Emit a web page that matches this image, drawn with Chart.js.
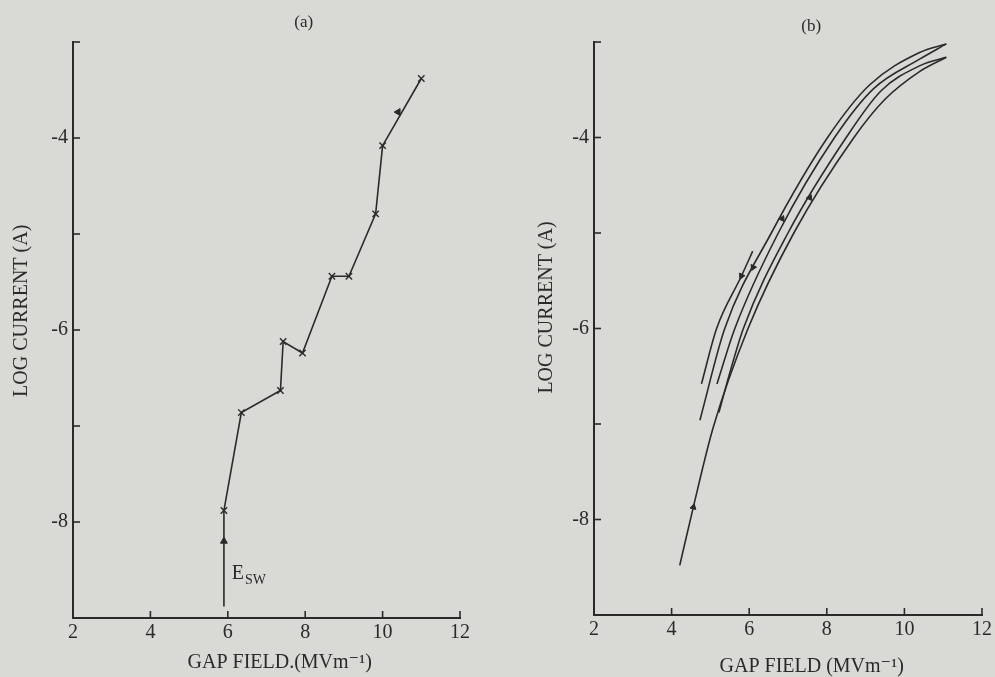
<!DOCTYPE html>
<html>
<head>
<meta charset="utf-8">
<script src="https://cdn.jsdelivr.net/npm/chart.js@4"></script>
<style>
  html, body { margin: 0; padding: 0; background: #d9d9d5; }
  #wrap { position: relative; width: 995px; height: 677px; overflow: hidden; }
  canvas { position: absolute; top: 0; }
  #ca { left: 0; }
  #cb { left: 497px; }
</style>
</head>
<body>
<div id="wrap">
  <canvas id="ca" width="497" height="677"></canvas>
  <canvas id="cb" width="498" height="677"></canvas>
</div>
<script>
// ---------- DATA ----------
// Panel (a): measured points (gap field MV/m, log current A)
const fieldA   = [5.9, 5.9, 6.35, 7.36, 7.43, 7.93, 8.69, 9.13, 9.82, 10.0, 11.0];
const logIA    = [-8.88, -7.88, -6.86, -6.63, -6.12, -6.24, -5.44, -5.44, -4.79, -4.08, -3.38];
// direction arrows on panel (a)
const arrowFieldA = [5.9, 10.4];
const arrowLogIA  = [-8.2, -3.73];
const arrowAngleA = [0, 30];

// Panel (b): hysteresis curves
const riseX1 = [4.21, 4.56, 5.07, 5.97, 7.15, 8.7, 9.5, 10.39, 11.08];
const riseY1 = [-8.48, -7.87, -7.04, -6.0, -5.0, -4.0, -3.6, -3.31, -3.16];
const fallX1 = [5.22, 5.42, 5.85, 7.0, 8.5, 9.4, 10.39, 11.08];
const fallY1 = [-6.88, -6.58, -6.0, -5.0, -4.0, -3.51, -3.25, -3.16];
const riseX2 = [5.17, 5.63, 6.75, 8.2, 9.2, 10.39, 11.08];
const riseY2 = [-6.58, -6.0, -5.0, -4.0, -3.49, -3.18, -3.02];
const fallX2 = [4.73, 5.37, 6.57, 8.02, 9.1, 10.39, 11.08];
const fallY2 = [-6.96, -6.0, -5.0, -4.0, -3.45, -3.11, -3.02];
const shortX = [4.77, 5.16, 5.8, 6.09];
const shortY = [-6.58, -6.0, -5.45, -5.19];
// direction arrows on panel (b)
const arrowFieldB = [4.56, 5.8, 6.1, 6.85, 7.56];
const arrowLogIB  = [-7.87, -5.45, -5.36, -4.85, -4.63];
const arrowAngleB = [14, 205, 205, 25, 25];

// Axes
const xTickValues = [2, 4, 6, 8, 10, 12];
const yLabelValues = [-4, -6, -8];
const X_MIN = 2, X_MAX = 12, Y_MIN = -9, Y_MAX = -3;

// ---------- STYLE ----------
const INK = '#2a2a2a';
const SERIF = '"Liberation Serif", "DejaVu Serif", serif';

const pts = (xs, ys) => xs.map((x, i) => ({ x, y: ys[i] }));

const inwardTicks = {
  id: 'inwardTicks',
  afterDraw(chart) {
    const { ctx, chartArea, scales: { x, y } } = chart;
    ctx.save();
    ctx.strokeStyle = INK;
    ctx.lineWidth = 1.6;
    x.ticks.forEach(t => {
      const px = x.getPixelForValue(t.value);
      ctx.beginPath(); ctx.moveTo(px, chartArea.bottom); ctx.lineTo(px, chartArea.bottom - 7); ctx.stroke();
    });
    y.ticks.forEach(t => {
      const py = y.getPixelForValue(t.value);
      ctx.beginPath(); ctx.moveTo(chartArea.left, py); ctx.lineTo(chartArea.left + 7, py); ctx.stroke();
    });
    ctx.restore();
  }
};

// panel letter, axis titles and the E_SW annotation
const labelsPlugin = {
  id: 'panelLabels',
  afterDraw(chart, args, opts) {
    const { ctx, scales: { x, y } } = chart;
    ctx.save();
    ctx.fillStyle = INK;
    ctx.textAlign = 'center';
    ctx.textBaseline = 'middle';
    ctx.font = '17px ' + SERIF;
    ctx.fillText(opts.panel, x.getPixelForValue(opts.panelX), opts.panelY);
    // x axis title
    ctx.font = '20px ' + SERIF;
    ctx.fillText(opts.xTitle, x.getPixelForValue(opts.xTitleAt), opts.xTitleY);
    // y axis title
    ctx.save();
    ctx.translate(opts.yTitleX, y.getPixelForValue(opts.yTitleAt));
    ctx.rotate(-Math.PI / 2);
    ctx.fillText('LOG CURRENT (A)', 0, 0);
    ctx.restore();
    if (opts.esw) {
      const ex = x.getPixelForValue(opts.esw[0]);
      const ey = y.getPixelForValue(opts.esw[1]);
      ctx.textAlign = 'left';
      ctx.font = '20px ' + SERIF;
      ctx.fillText('E', ex, ey);
      const w = ctx.measureText('E').width;
      ctx.font = '14px ' + SERIF;
      ctx.fillText('SW', ex + w + 1, ey + 6);
    }
    ctx.restore();
  }
};

function makeOptions(cfg) {
  return {
    responsive: false,
    animation: false,
    devicePixelRatio: 1,
    layout: { padding: { left: 0, top: 42, right: cfg.padRight, bottom: 0 } },
    plugins: {
      legend: { display: false },
      tooltip: { enabled: false },
      panelLabels: cfg.labels
    },
    scales: {
      x: {
        type: 'linear', min: X_MIN, max: X_MAX,
        afterBuildTicks: s => { s.ticks = xTickValues.map(v => ({ value: v })); },
        afterFit: s => { s.height = cfg.xHeight; },
        grid: { display: false, drawTicks: false },
        border: { display: true, color: INK, width: 2 },
        ticks: { color: INK, font: { family: SERIF, size: 20 }, padding: 3, maxRotation: 0 }
      },
      y: {
        type: 'linear', min: Y_MIN, max: Y_MAX,
        ticks: {
          stepSize: 1, color: INK, font: { family: SERIF, size: 20 }, padding: 5,
          callback: v => yLabelValues.includes(v) ? String(v) : ''
        },
        afterFit: s => { s.width = cfg.yWidth; },
        grid: { display: false, drawTicks: false },
        border: { display: true, color: INK, width: 2 }
      }
    }
  };
}

const lineStyle = { borderColor: INK, borderWidth: 1.6, showLine: true, fill: false, pointRadius: 0 };
const arrowStyle = (angles) => ({
  showLine: false, pointStyle: 'triangle', pointRadius: 4, pointRotation: angles,
  backgroundColor: INK, borderColor: INK, borderWidth: 1
});

new Chart(document.getElementById('ca'), {
  type: 'scatter',
  data: {
    datasets: [
      Object.assign({}, lineStyle, {
        data: pts(fieldA, logIA), tension: 0,
        pointStyle: 'crossRot',
        pointRadius: ctx => ctx.dataIndex === 0 ? 0 : 4.5,
        pointBorderColor: INK, pointBorderWidth: 1.4
      }),
      Object.assign({ data: pts(arrowFieldA, arrowLogIA) }, arrowStyle(arrowAngleA))
    ]
  },
  options: makeOptions({
    padRight: 37, xHeight: 59, yWidth: 73,
    labels: {
      panel: '(a)', panelX: 7.96, panelY: 23, esw: [6.1, -8.54],
      xTitle: 'GAP FIELD.(MVm\u207B\u00B9)', xTitleAt: 7.34, xTitleY: 663,
      yTitleX: 22, yTitleAt: -5.8
    }
  }),
  plugins: [inwardTicks, labelsPlugin]
});

new Chart(document.getElementById('cb'), {
  type: 'scatter',
  data: {
    datasets: [
      Object.assign({ data: pts(riseX1, riseY1), cubicInterpolationMode: 'monotone' }, lineStyle),
      Object.assign({ data: pts(fallX1, fallY1), cubicInterpolationMode: 'monotone' }, lineStyle),
      Object.assign({ data: pts(riseX2, riseY2), cubicInterpolationMode: 'monotone' }, lineStyle),
      Object.assign({ data: pts(fallX2, fallY2), cubicInterpolationMode: 'monotone' }, lineStyle),
      Object.assign({ data: pts(shortX, shortY), cubicInterpolationMode: 'monotone' }, lineStyle),
      Object.assign({ data: pts(arrowFieldB, arrowLogIB) }, arrowStyle(arrowAngleB), { pointRadius: 3.5 })
    ]
  },
  options: makeOptions({
    padRight: 13, xHeight: 62, yWidth: 97,
    labels: {
      panel: '(b)', panelX: 7.6, panelY: 27, esw: null,
      xTitle: 'GAP FIELD (MVm\u207B\u00B9)', xTitleAt: 7.61, xTitleY: 667,
      yTitleX: 50, yTitleAt: -5.78
    }
  }),
  plugins: [inwardTicks, labelsPlugin]
});
</script>
</body>
</html>
